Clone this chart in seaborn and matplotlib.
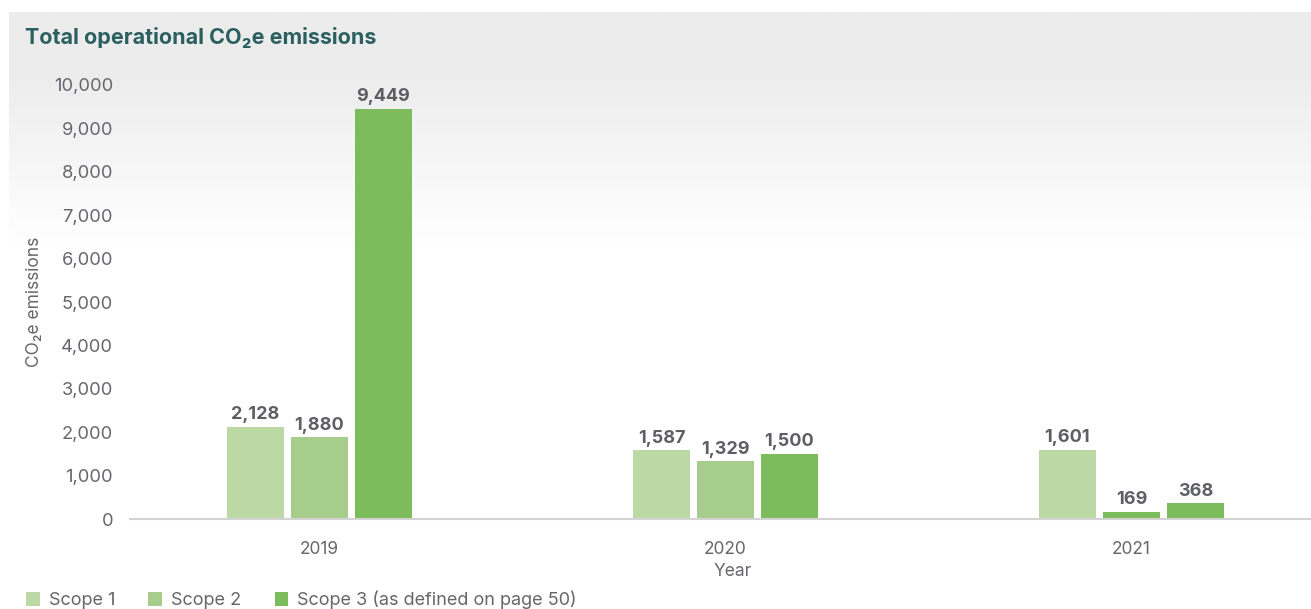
import numpy as np
import pandas as pd
import matplotlib
matplotlib.use("Agg")
import matplotlib.pyplot as plt
import seaborn as sns

# Emissions data (tCO2e)
years = ["2019", "2020", "2021"]
scopes = ["Scope 1", "Scope 2", "Scope 3 (as defined on page 50)"]
scope1 = [2128, 1587, 1601]
scope2 = [1880, 1329, 169]
scope3 = [9449, 1500, 368]
y_ticks = [0, 1000, 2000, 3000, 4000, 5000, 6000, 7000, 8000, 9000, 10000]

palette = ["#bcd9a5", "#a6cd8b", "#7dbc5d"]

df = pd.DataFrame({
    "Year": years * 3,
    "Scope": [s for s in scopes for _ in years],
    "Value": scope1 + scope2 + scope3,
})

sns.set_theme(style="white")
plt.rcParams["font.family"] = ["Inter", "DejaVu Sans"]

W, H = 1311, 609
fig = plt.figure(figsize=(W / 100, H / 100), dpi=100)
fig.patch.set_facecolor("white")

# Header panel with a soft grey-to-white fade
bg = fig.add_axes([9 / W, 1 - 245 / H, 1 - 9 / W, 233 / H], zorder=0)
rows = np.arange(233)
shade = np.where(rows < 58, 236.0, 236.0 + (255.0 - 236.0) * np.clip((rows - 58) / 175.0, 0, 1))
grad = np.repeat(shade[:, None], 10, axis=1) / 255.0
bg.imshow(np.dstack([grad, grad, grad]), aspect="auto", extent=[0, 1, 0, 1], interpolation="bilinear")
bg.set_axis_off()

ax_left, ax_right = 130 / W, 1310 / W
ax_bottom, ax_top = 1 - 519 / H, 1 - 85 / H
ax = fig.add_axes([ax_left, ax_bottom, ax_right - ax_left, ax_top - ax_bottom], zorder=1)
ax.set_facecolor("none")

sns.barplot(data=df, x="Year", y="Value", hue="Scope", hue_order=scopes,
            palette=palette, width=0.473, gap=0.109, saturation=1,
            edgecolor="none", linewidth=0, ax=ax)

# The 2021 Scope 2 bar is drawn in the darker green
ax.containers[1][2].set_facecolor(palette[2])

label_color = "#5e5e65"
for cont in ax.containers:
    ax.bar_label(cont, labels=[f"{v:,.0f}" for v in cont.datavalues], padding=2.5,
                 fontsize=13, fontweight="bold", color=label_color)

ax.set_xlim(-0.4667, 2.4397)
ax.set_ylim(0, 10000)
ax.set_yticks(y_ticks)
ax.set_yticklabels([f"{t:,}" for t in y_ticks])
tick_color = "#66666d"
ax.tick_params(axis="y", length=0, pad=12.2, labelsize=13.2, labelcolor=tick_color)
ax.tick_params(axis="x", length=0, pad=16, labelsize=12.5, labelcolor=tick_color)

for side in ["top", "right", "left"]:
    ax.spines[side].set_visible(False)
ax.spines["bottom"].set_color("#d3d3d3")
ax.spines["bottom"].set_linewidth(1.5)

ax.set_ylabel("CO₂e emissions", fontsize=12.5, color=tick_color)
ax.yaxis.set_label_coords((43 - 130) / (1310 - 130), 0.5)
ax.set_xlabel("Year", fontsize=12.5, color=tick_color)
ax.xaxis.set_label_coords((733 - 130) / (1310 - 130), -(572 - 519) / (519 - 85))
ax.xaxis.label.set_verticalalignment("center")

handles, labels = ax.get_legend_handles_labels()
ax.get_legend().remove()
fig.legend(handles, labels, loc="center left", bbox_to_anchor=(26 / W, 9 / H),
           ncol=3, frameon=False, fontsize=13, labelcolor=tick_color,
           handlelength=0.75, handleheight=0.75, handletextpad=0.5,
           columnspacing=1.85, borderpad=0, borderaxespad=0)

fig.text(25 / W, 1 - 38 / H, "Total operational CO₂e emissions", fontsize=15.5,
         fontweight="bold", color="#2b5f60", va="center", ha="left", zorder=3)

fig.savefig("out.png", dpi=100)
